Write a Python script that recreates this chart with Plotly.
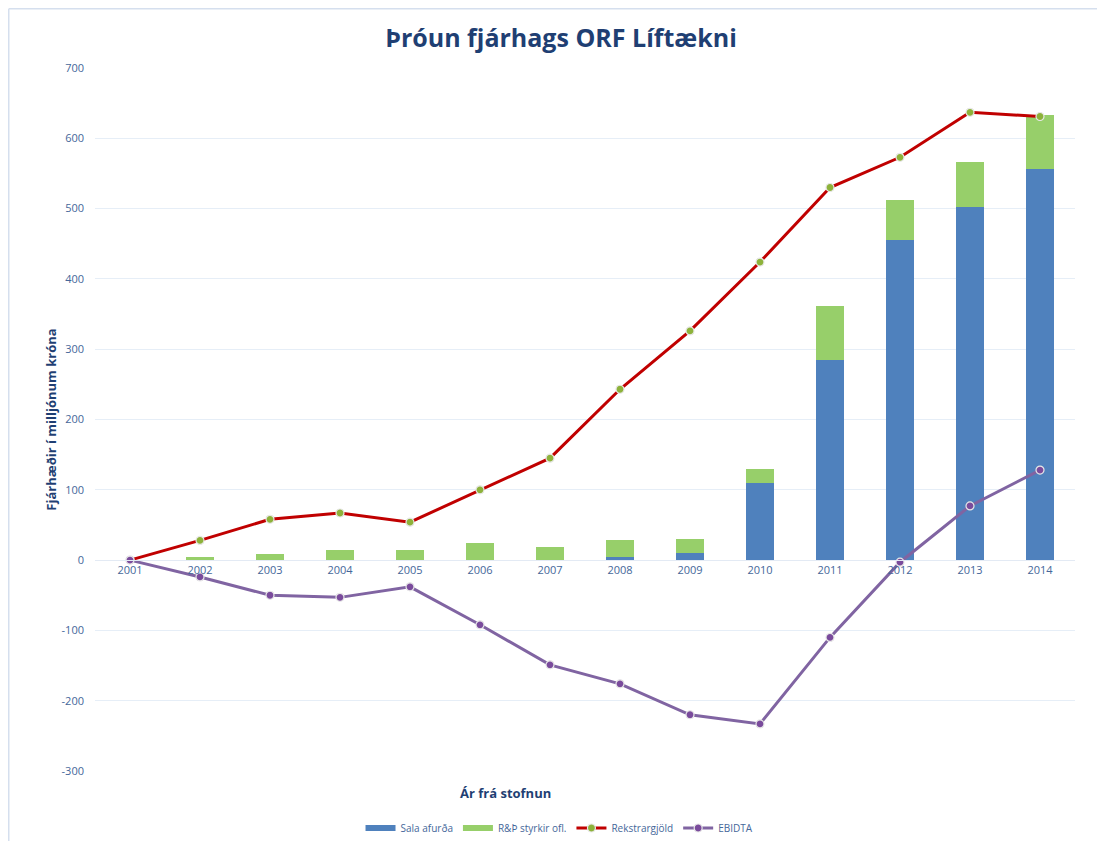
import plotly.graph_objects as go

years = ["2001", "2002", "2003", "2004", "2005", "2006", "2007",
         "2008", "2009", "2010", "2011", "2012", "2013", "2014"]
sala_afurda = [0, 0, 0, 0, 0, 0, 0, 4, 10, 110, 284, 455, 502, 557]
rd_styrkir = [0, 5, 8, 14, 14, 25, 18, 25, 20, 19, 78, 57, 64, 76]
rekstrargjold = [0, 28, 58, 67, 54, 100, 145, 243, 326, 424, 530, 573, 637, 631]
ebidta = [0, -24, -50, -53, -38, -92, -149, -176, -220, -233, -110, -3, 77, 128]
y_ticks = [-300, -200, -100, 0, 100, 200, 300, 400, 500, 600, 700]
y_tick_text = ["-300", "-200", "-100", "0", "100", "200", "300", "400", "500", "600", "700"]

FONT = "Open Sans"
DARK = "#1F3F73"
TICK = "#45679A"
BLUE = "#4F81BD"
GREEN = "#97CF6A"

W, H = 1105, 841
OFF = 8  # page body margin
ML, MR, MT, MB = 95 - OFF, 30 + OFF, 68 - OFF, 70 + OFF
PW = W - ML - MR
PH = H - MT - MB

fig = go.Figure()
fig.add_trace(go.Bar(x=years, y=sala_afurda, name="Sala afurða", showlegend=False,
                     marker=dict(color=BLUE, line=dict(width=0))))
fig.add_trace(go.Bar(x=years, y=rd_styrkir, name="R&Þ styrkir ofl.", showlegend=False,
                     marker=dict(color=GREEN, line=dict(width=0))))
# legend entries for the bars drawn as wide swatches
fig.add_trace(go.Scatter(x=[None], y=[None], mode="lines", name="Sala afurða",
                         line=dict(color=BLUE, width=6)))
fig.add_trace(go.Scatter(x=[None], y=[None], mode="lines", name="R&Þ styrkir ofl.",
                         line=dict(color=GREEN, width=6)))
fig.add_trace(go.Scatter(x=years, y=rekstrargjold, name="Rekstrargjöld",
                         mode="lines+markers",
                         line=dict(color="#C00000", width=3),
                         marker=dict(color="#8DB23A", size=8,
                                     line=dict(color="#E8E8E8", width=1.2))))
fig.add_trace(go.Scatter(x=years, y=ebidta, name="EBIDTA",
                         mode="lines+markers",
                         line=dict(color="#8064A2", width=3),
                         marker=dict(color="#7A4B9C", size=8,
                                     line=dict(color="#E8E8E8", width=1.2))))

fig.update_layout(
    width=W, height=H,
    margin=dict(l=ML, r=MR, t=MT, b=MB, autoexpand=False),
    paper_bgcolor="white", plot_bgcolor="white",
    barmode="stack", bargap=0.6,
    font=dict(family=FONT, color=TICK, size=11),
    title=dict(text="<b>Þróun fjárhags ORF Líftækni</b>",
               x=(561 - OFF) / W, xanchor="center", y=1 - (38 - OFF) / H, yanchor="middle",
               font=dict(family=FONT, size=25, color=DARK)),
    xaxis=dict(type="category", range=[-0.5, 13.5], anchor="free", position=0.3,
               showline=True, linecolor="#E3EAF4", linewidth=1, automargin=False,
               showgrid=False, ticks="", tickfont=dict(size=11, color=TICK)),
    yaxis=dict(range=[-300, 700], tickvals=y_ticks, ticktext=y_tick_text,
               showgrid=True, automargin=False,
               gridcolor="#E6EEF7", gridwidth=1, zeroline=False,
               ticks="", ticklabelstandoff=10, tickfont=dict(size=11, color=TICK),
               title=dict(text="<b>Fjárhæðir í milljónum króna</b>",
                          font=dict(size=13, color=DARK), standoff=2)),
    legend=dict(orientation="h", x=0.474, xanchor="center", y=-(828 - 771) / PH,
                yanchor="middle", font=dict(size=10, color=TICK),
                traceorder="normal"),
    showlegend=True,
)

fig.add_annotation(text="<b>Ár frá stofnun</b>", xref="paper", yref="paper",
                   x=(505 - 95) / PW, y=-(793 - 771) / PH,
                   showarrow=False, font=dict(size=13, color=DARK, family=FONT),
                   xanchor="center", yanchor="middle")

# outer frame (left and top edges visible)
fx = (0.75 - ML) / PW
fy = 1 + (MT - 0.75) / PH
fig.add_shape(type="line", xref="paper", yref="paper",
              x0=fx, x1=fx, y0=-MB / PH, y1=fy,
              line=dict(color="#D5DFEE", width=1.5))
fig.add_shape(type="line", xref="paper", yref="paper",
              x0=fx, x1=1 + MR / PW, y0=fy, y1=fy,
              line=dict(color="#D5DFEE", width=1.5))

fig.write_html("out.html")
